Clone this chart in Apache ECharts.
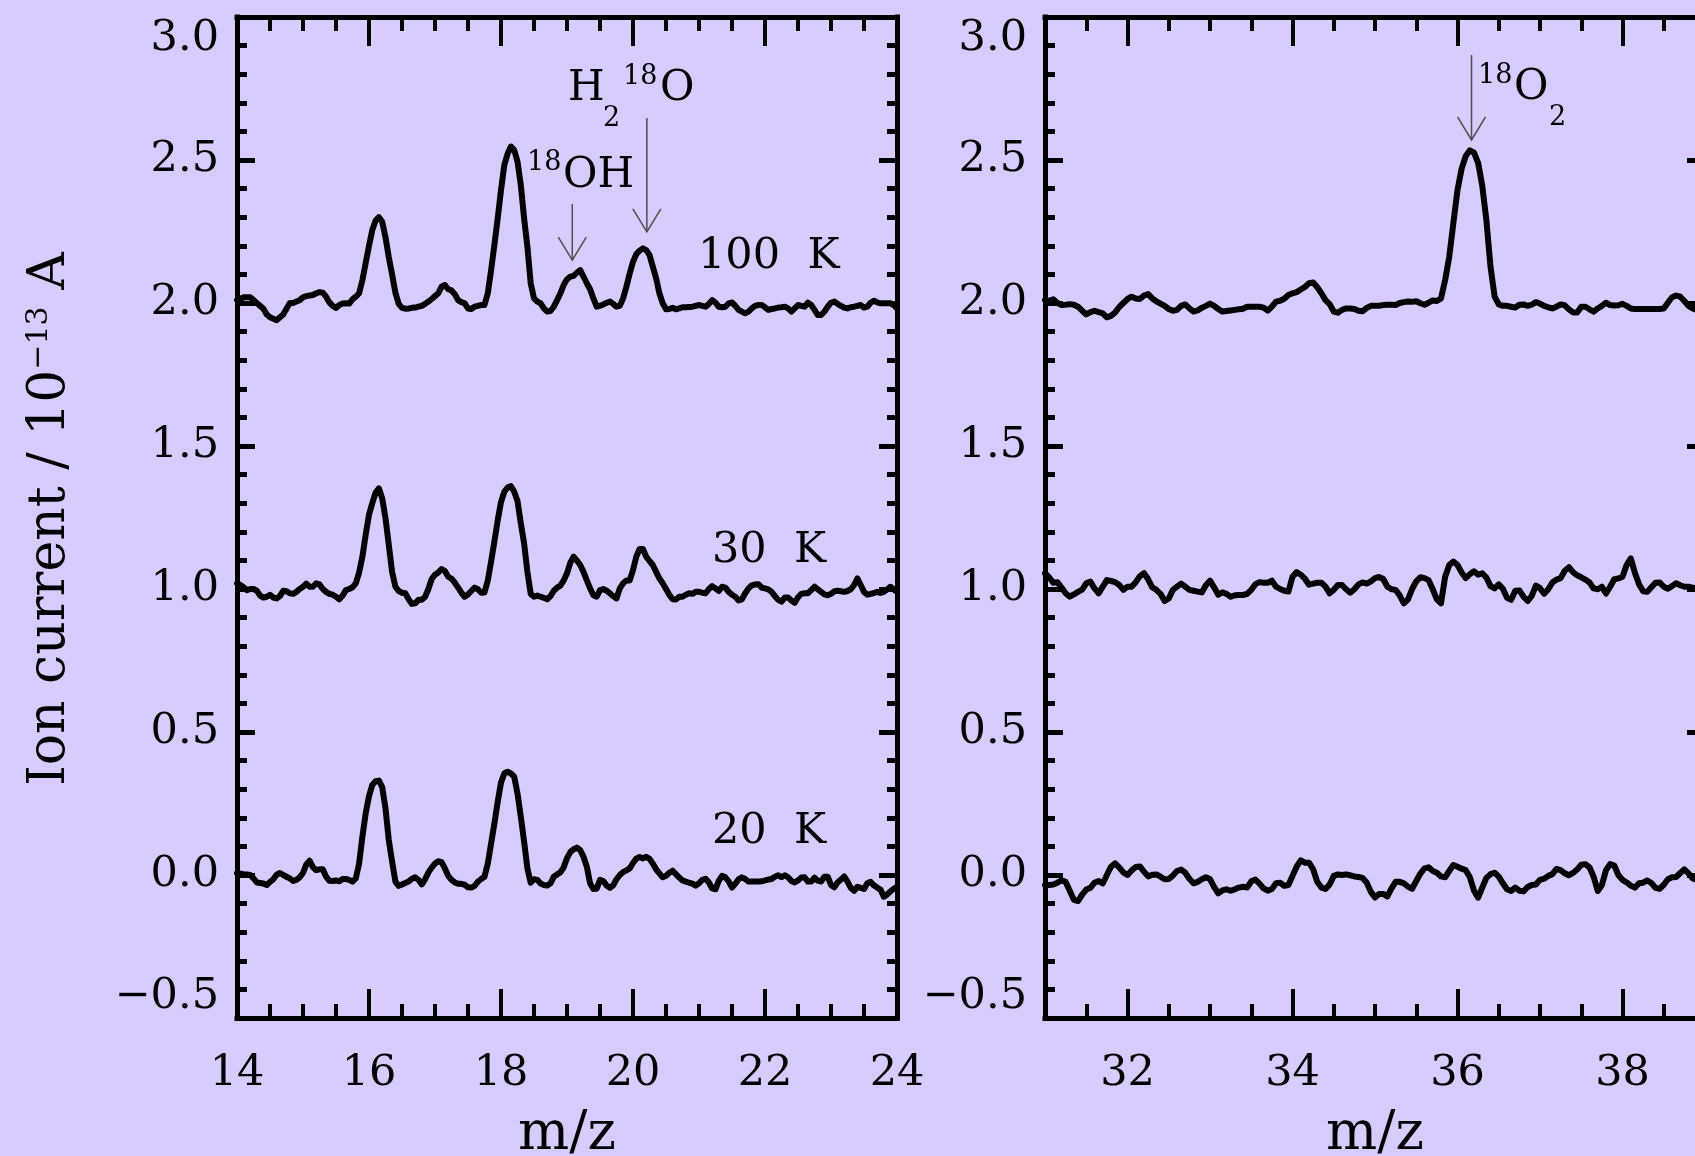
<!DOCTYPE html>
<html>
<head>
  <meta charset="utf-8">
  <title>Ion current</title>
  <script src="https://cdn.jsdelivr.net/npm/echarts@6/dist/echarts.min.js"></script>
  <style>
    html, body { margin: 0; padding: 0; background: #d8cbfd; }
    #chart { width: 1695px; height: 1156px; }
  </style>
</head>
<body>
<div id="chart"></div>
<script>
  // spectra are sampled every 0.05 in m/z
  var mzStep = 0.05
  var leftStart = 14
  var rightStart = 31

  // left panel, m/z 14 - 24
  var left100K = [
    2.01, 2.014, 2.02, 2.02, 2.02, 2.01, 2.0, 1.99, 1.98, 1.96,
    1.95, 1.945, 1.94, 1.95, 1.96, 1.98, 2.0, 2.0, 2.005, 2.01,
    2.02, 2.024, 2.026, 2.028, 2.034, 2.038, 2.036, 2.022, 2.002, 1.99,
    1.983, 1.993, 1.998, 1.999, 1.998, 2.013, 2.022, 2.034, 2.08, 2.14,
    2.2, 2.255, 2.288, 2.3, 2.284, 2.23, 2.16, 2.1, 2.036, 1.997,
    1.983, 1.98, 1.981, 1.983, 1.984, 1.987, 1.99, 1.997, 2.005, 2.014,
    2.024, 2.034, 2.057, 2.063, 2.048, 2.044, 2.031, 2.01, 2.003, 1.999,
    1.981, 1.979, 1.987, 1.99, 1.993, 1.993, 2.034, 2.115, 2.203, 2.296,
    2.395, 2.482, 2.522, 2.547, 2.535, 2.494, 2.413, 2.296, 2.197, 2.069,
    2.016, 2.005, 1.999, 1.981, 1.97, 1.972, 1.987, 2.01, 2.034, 2.063,
    2.083, 2.092, 2.095, 2.106, 2.115, 2.092, 2.069, 2.048, 2.016, 1.987,
    1.99, 1.995, 2.001, 2.005, 1.997, 1.987, 1.99, 2.016, 2.057, 2.103,
    2.144, 2.171, 2.183, 2.191, 2.185, 2.168, 2.127, 2.087, 2.034, 1.999,
    1.978, 1.979, 1.983, 1.978, 1.981, 1.985, 1.985, 1.986, 1.987, 1.99,
    1.993, 1.99, 1.987, 1.997, 2.01, 2.001, 1.987, 1.985, 1.987, 1.999,
    2.002, 1.99, 1.976, 1.97, 1.964, 1.97, 1.981, 1.99, 1.993, 1.993,
    1.985, 1.976, 1.979, 1.981, 1.984, 1.985, 1.987, 1.981, 1.97, 1.981,
    1.993, 1.99, 1.987, 2.001, 1.993, 1.976, 1.958, 1.958, 1.97, 1.987,
    2.001, 2.005, 1.997, 1.99, 1.984, 1.981, 1.985, 1.987, 1.99, 1.993,
    1.984, 1.987, 2.001, 2.008, 2.002, 1.999, 1.999, 1.999, 1.999, 1.993,
    1.981
  ]
  var left30K = [
    1.02, 1.014, 1.006, 0.996, 1.0, 1.0, 0.994, 0.977, 0.97, 0.973,
    0.98, 0.97, 0.967, 0.975, 0.994, 0.992, 0.985, 0.983, 0.99, 1.0,
    1.008, 1.019, 1.008, 1.008, 1.02, 1.016, 1.0, 0.99, 0.983, 0.98,
    0.973, 0.964, 0.977, 0.996, 1.0, 1.006, 1.02, 1.057, 1.113, 1.19,
    1.26, 1.3, 1.337, 1.352, 1.317, 1.247, 1.154, 1.06, 1.008, 0.993,
    0.987, 0.985, 0.964, 0.948, 0.95, 0.962, 0.962, 0.973, 1.0, 1.035,
    1.05, 1.058, 1.07, 1.063, 1.043, 1.036, 1.022, 1.005, 0.987, 0.973,
    0.981, 0.993, 1.005, 0.999, 0.987, 0.988, 1.03, 1.096, 1.166, 1.24,
    1.304, 1.34, 1.355, 1.36, 1.34, 1.308, 1.23, 1.16, 1.06, 0.983,
    0.973, 0.977, 0.973, 0.969, 0.964, 0.975, 0.994, 1.005, 1.012, 1.03,
    1.055, 1.092, 1.113, 1.1, 1.084, 1.06, 1.03, 1.002, 0.978, 0.973,
    0.996, 1.0, 0.994, 0.985, 0.975, 0.967, 1.002, 1.02, 1.03, 1.03,
    1.066, 1.113, 1.14, 1.14, 1.113, 1.098, 1.084, 1.06, 1.037, 1.02,
    1.0, 0.98, 0.964, 0.963, 0.973, 0.973, 0.98, 0.985, 0.983, 0.99,
    0.99, 0.987, 0.985, 1.0, 1.01, 1.002, 0.993, 1.008, 1.005, 0.99,
    0.98, 0.973, 0.96, 0.964, 0.985, 1.002, 1.013, 1.016, 1.017, 1.005,
    1.002, 0.999, 0.99, 0.975, 0.962, 0.956, 0.97, 0.97, 0.96, 0.952,
    0.971, 0.983, 0.985, 0.985, 0.996, 1.008, 0.999, 0.99, 0.981, 0.978,
    0.983, 0.992, 0.994, 0.992, 0.99, 0.993, 0.999, 1.014, 1.037, 1.014,
    0.99, 0.98, 0.983, 0.986, 0.99, 0.986, 0.99, 0.999, 1.008, 0.999,
    0.99
  ]
  var left20K = [
    0.006, 0.005, 0.003, 0.002, 0.0, -0.012, -0.026, -0.028, -0.03, -0.035,
    -0.024, -0.015, 0.001, 0.007, 0.0, -0.006, -0.012, -0.021, -0.017, -0.008,
    0.007, 0.037, 0.05, 0.027, 0.017, 0.02, 0.02, -0.006, -0.02, -0.021,
    -0.019, -0.022, -0.014, -0.014, -0.017, -0.023, -0.012, 0.04, 0.134, 0.216,
    0.276, 0.315, 0.328, 0.33, 0.307, 0.233, 0.122, 0.047, -0.023, -0.038,
    -0.033, -0.028, -0.023, -0.013, -0.008, -0.017, -0.033, -0.015, 0.009, 0.026,
    0.04, 0.048, 0.045, 0.023, -0.003, -0.017, -0.026, -0.031, -0.031, -0.034,
    -0.043, -0.044, -0.038, -0.023, -0.014, -0.006, 0.04, 0.11, 0.18, 0.256,
    0.323, 0.355, 0.361, 0.355, 0.344, 0.285, 0.204, 0.117, 0.023, -0.027,
    -0.015, -0.017, -0.03, -0.035, -0.037, -0.029, -0.006, 0.002, 0.009, 0.027,
    0.059, 0.08, 0.09, 0.096, 0.087, 0.064, 0.029, -0.029, -0.049, -0.048,
    -0.017, -0.021, -0.037, -0.045, -0.036, -0.015, 0.0, 0.01, 0.016, 0.023,
    0.042, 0.057, 0.063, 0.058, 0.064, 0.057, 0.04, 0.02, 0.006, -0.008,
    -0.003, 0.008, 0.015, 0.003, -0.009, -0.019, -0.023, -0.027, -0.03, -0.037,
    -0.029, -0.017, -0.013, -0.026, -0.047, -0.05, -0.02, -0.003, -0.008, -0.022,
    -0.044, -0.031, -0.015, -0.008, -0.014, -0.023, -0.023, -0.023, -0.023, -0.022,
    -0.019, -0.016, -0.014, -0.006, -0.001, -0.008, -0.001, -0.008, -0.021, -0.026,
    -0.019, -0.009, -0.008, -0.023, -0.023, -0.009, -0.02, -0.023, -0.006, -0.006,
    -0.035, -0.043, -0.026, -0.016, -0.005, -0.023, -0.045, -0.055, -0.041, -0.045,
    -0.049, -0.029, -0.024, -0.036, -0.044, -0.051, -0.076, -0.068, -0.058, -0.048,
    -0.041
  ]

  // right panel, m/z 31 - 39
  var right100K = [
    2.01, 2.008, 2.013, 2.0, 1.993, 1.994, 1.996, 1.994, 1.987, 1.973,
    1.96, 1.968, 1.973, 1.968, 1.964, 1.95, 1.955, 1.967, 1.986, 2.0,
    2.014, 2.022, 2.016, 2.014, 2.026, 2.031, 2.016, 2.006, 1.998, 1.99,
    1.979, 1.973, 1.976, 1.99, 1.995, 1.981, 1.97, 1.974, 1.983, 1.99,
    1.998, 1.99, 1.979, 1.97, 1.972, 1.974, 1.976, 1.978, 1.98, 1.987,
    1.987, 1.987, 1.987, 1.984, 1.973, 1.987, 2.005, 2.008, 2.015, 2.028,
    2.034, 2.038, 2.047, 2.056, 2.069, 2.072, 2.055, 2.034, 2.01, 1.996,
    1.97, 1.966, 1.976, 1.981, 1.981, 1.979, 1.973, 1.971, 1.983, 1.99,
    1.99, 1.99, 1.993, 1.994, 1.994, 1.993, 2.0, 2.003, 2.005, 2.004,
    2.006, 1.999, 1.994, 2.001, 2.009, 2.007, 2.016, 2.08, 2.162, 2.28,
    2.395, 2.47, 2.514, 2.534, 2.526, 2.49, 2.41, 2.29, 2.127, 2.022,
    1.995, 1.99, 1.99, 1.987, 1.984, 1.994, 1.995, 1.99, 1.994, 2.003,
    1.998, 1.99, 1.985, 1.981, 1.987, 1.995, 1.992, 1.978, 1.967, 1.967,
    1.987, 1.987, 1.978, 1.97, 1.981, 1.99, 2.001, 1.993, 1.991, 1.992,
    1.997, 1.99, 1.981, 1.979, 1.979, 1.979, 1.979, 1.979, 1.979, 1.979,
    1.981, 2.001, 2.02, 2.026, 2.022, 2.007, 1.99, 1.981, 1.976, 1.98,
    1.99
  ]
  var right30K = [
    1.055, 1.041, 1.022, 1.024, 1.005, 0.985, 0.973, 0.981, 0.99, 0.998,
    1.02, 1.026, 1.002, 0.985, 1.008, 1.031, 1.028, 1.024, 1.014, 0.997,
    1.008, 1.008, 1.024, 1.045, 1.055, 1.034, 1.006, 0.997, 0.983, 0.958,
    0.967, 0.997, 1.008, 1.019, 1.008, 0.997, 0.994, 0.991, 0.988, 1.013,
    1.029, 1.006, 0.98, 0.988, 0.983, 0.973, 0.978, 0.979, 0.979, 0.983,
    0.997, 1.017, 1.024, 1.022, 1.022, 1.029, 1.008, 1.0, 0.994, 0.991,
    1.043, 1.059, 1.05, 1.036, 1.015, 1.019, 1.022, 1.022, 1.008, 0.985,
    0.997, 1.014, 1.014, 0.999, 0.987, 0.999, 1.016, 1.023, 1.019, 1.027,
    1.038, 1.042, 1.035, 1.008, 0.999, 0.997, 0.977, 0.95, 0.964, 1.0,
    1.027, 1.041, 1.038, 1.031, 0.999, 0.964, 0.95, 1.043, 1.084, 1.096,
    1.084, 1.058, 1.038, 1.052, 1.062, 1.05, 1.055, 1.04, 1.01, 1.002,
    1.016, 1.001, 0.969, 0.962, 0.994, 0.995, 0.973, 0.958, 0.976, 1.012,
    1.003, 0.983, 0.999, 1.023, 1.033, 1.038, 1.064, 1.076, 1.059, 1.048,
    1.041, 1.033, 1.023, 1.002, 0.999, 1.008, 0.984, 1.008, 1.034, 1.037,
    1.043, 1.084, 1.107, 1.057, 1.017, 0.992, 0.99, 1.006, 1.022, 1.023,
    1.008, 1.001, 1.01, 1.02, 1.013, 1.008, 1.008, 1.005, 1.002, 1.008,
    1.006
  ]
  var right20K = [
    -0.035, -0.035, -0.033, -0.027, -0.019, -0.024, -0.055, -0.087, -0.091, -0.069,
    -0.051, -0.045, -0.027, -0.021, -0.029, 0.0, 0.029, 0.041, 0.026, 0.009,
    0.0, 0.016, 0.028, 0.03, 0.012, -0.005, 0.001, 0.002, -0.006, -0.015,
    -0.014, -0.002, 0.014, 0.019, 0.008, -0.013, -0.029, -0.024, -0.015, -0.008,
    -0.014, -0.042, -0.064, -0.054, -0.05, -0.055, -0.05, -0.044, -0.041, -0.044,
    -0.022, -0.016, -0.03, -0.047, -0.055, -0.049, -0.029, -0.027, -0.038, -0.035,
    -0.003, 0.029, 0.051, 0.043, 0.043, 0.02, -0.024, -0.044, -0.049, -0.033,
    -0.003, 0.002, 0.0, 0.002, -0.001, -0.005, -0.007, -0.01, -0.027, -0.059,
    -0.079, -0.066, -0.066, -0.075, -0.047, -0.024, -0.024, -0.029, -0.041, -0.048,
    -0.021, 0.005, 0.023, 0.027, 0.014, 0.008, -0.005, -0.008, 0.014, 0.035,
    0.029, 0.022, 0.017, -0.008, -0.055, -0.079, -0.044, -0.01, 0.003, 0.008,
    -0.006, -0.029, -0.05, -0.056, -0.044, -0.055, -0.057, -0.042, -0.035, -0.033,
    -0.017, -0.013, -0.003, 0.003, 0.021, 0.017, 0.006, -0.001, 0.007, 0.019,
    0.036, 0.038, 0.027, -0.006, -0.056, -0.035, 0.017, 0.038, 0.033, 0.0,
    -0.017, -0.026, -0.037, -0.044, -0.029, -0.027, -0.019, -0.028, -0.045, -0.048,
    -0.034, -0.015, -0.008, -0.007, 0.007, 0.02, 0.006, -0.012, -0.017, -0.012,
    -0.006
  ]

  var leftTicks = [14, 16, 18, 20, 22, 24]
  var rightTicks = [32, 34, 36, 38]

  // temperature labels, anchored at [m/z, current]
  var tempNames = ['100  K', '30  K', '20  K']
  var tempPos = [[20.985, 2.16], [21.197, 1.135], [21.197, 0.15]]

  // arrows: [m/z, top of shaft, tip]
  var leftArrows = [[19.08, 2.346, 2.15], [20.21, 2.647, 2.249]]
  var rightArrows = [[36.17, 2.867, 2.57]]

  // species labels, anchored at [m/z, current]
  var leftSpeciesPos = [[19.015, 2.748], [18.394, 2.445]]
  var rightSpeciesPos = [[36.248, 2.752]]
  // pieces of each label: text, dx, dy, font size
  var leftSpecies = [
    [['H', 0, 0, 42], ['2', 35, 30, 27], ['18', 55, -12, 27], ['O', 92, 0, 42]],
    [['18', 0, -13, 27], ['OH', 36, 0, 42]]
  ]
  var rightSpecies = [
    [['18', 0, -12, 27], ['O', 36, 0, 42], ['2', 71, 30, 27]]
  ]

  var font = 'DejaVu Serif'
  var ink = '#000'
  var chart = echarts.init(document.getElementById('chart'))

  function toPairs (start, values) {
    return values.map(function (v, i) {
      return [Math.round((start + i * mzStep) * 100) / 100, v]
    })
  }

  // x axis carrying the frame line and the short ticks
  function frameX (grid, min, max, position) {
    return {
      type: 'value',
      gridIndex: grid,
      position: position,
      min: min,
      max: max,
      interval: 0.5,
      axisLine: { show: true, onZero: false, lineStyle: { color: ink, width: 5, cap: 'square' } },
      axisTick: { show: true, inside: true, length: 14, lineStyle: { color: ink, width: 4 } },
      axisLabel: { show: false },
      splitLine: { show: false }
    }
  }

  // x axis carrying the long ticks and the labels
  function majorX (grid, min, max, position, ticks, withLabels) {
    var axis = {
      type: 'value',
      gridIndex: grid,
      position: position,
      min: min,
      max: max,
      axisLine: { show: false, onZero: false },
      axisTick: { show: true, inside: true, length: 29, customValues: ticks, lineStyle: { color: ink, width: 4 } },
      axisLabel: {
        show: withLabels,
        customValues: ticks,
        showMinLabel: true,
        showMaxLabel: true,
        margin: 34,
        color: ink,
        fontFamily: font,
        fontSize: 43
      },
      splitLine: { show: false }
    }
    if (withLabels) {
      axis.name = 'm/z'
      axis.nameLocation = 'middle'
      axis.nameGap = 90
      axis.nameTextStyle = { color: ink, fontFamily: font, fontSize: 54 }
    }
    return axis
  }

  function frameY (grid, position, withLabels) {
    return {
      type: 'value',
      gridIndex: grid,
      position: position,
      min: -0.5,
      max: 3,
      interval: 0.5,
      axisLine: { show: true, onZero: false, lineStyle: { color: ink, width: 5, cap: 'square' } },
      axisTick: { show: true, inside: true, length: 18, lineStyle: { color: ink, width: 5 } },
      minorTick: { show: true, splitNumber: 5, length: 10, lineStyle: { color: ink, width: 5 } },
      axisLabel: {
        show: withLabels,
        margin: 18,
        color: ink,
        fontFamily: font,
        fontSize: 43,
        showMinLabel: true,
        showMaxLabel: true,
        verticalAlignMinLabel: 'bottom',
        verticalAlignMaxLabel: 'top',
        formatter: function (v) {
          return v.toFixed(1).replace('-', '\u2212')
        }
      },
      splitLine: { show: false },
      minorSplitLine: { show: false }
    }
  }

  function trace (xIndex, yIndex, start, values) {
    return {
      type: 'line',
      xAxisIndex: xIndex,
      yAxisIndex: yIndex,
      data: toPairs(start, values),
      symbol: 'none',
      silent: true,
      lineStyle: { color: ink, width: 6, join: 'round', cap: 'round' }
    }
  }

  function arrows (xIndex, yIndex, data) {
    return {
      type: 'custom',
      xAxisIndex: xIndex,
      yAxisIndex: yIndex,
      data: data,
      silent: true,
      renderItem: function (params, api) {
        var top = api.coord([api.value(0), api.value(1)])
        var tip = api.coord([api.value(0), api.value(2)])
        return {
          type: 'group',
          children: [{
            type: 'line',
            shape: { x1: top[0], y1: top[1], x2: tip[0], y2: tip[1] },
            style: { stroke: '#4d4d4d', lineWidth: 1.5 }
          }, {
            type: 'polyline',
            shape: { points: [[tip[0] - 14, tip[1] - 23], [tip[0], tip[1]], [tip[0] + 14, tip[1] - 23]] },
            style: { stroke: '#4d4d4d', lineWidth: 1.5, fill: null }
          }]
        }
      }
    }
  }

  function labels (xIndex, yIndex, positions, pieces) {
    return {
      type: 'custom',
      xAxisIndex: xIndex,
      yAxisIndex: yIndex,
      data: positions,
      silent: true,
      renderItem: function (params, api) {
        var p = api.coord([api.value(0), api.value(1)])
        return {
          type: 'group',
          children: pieces[params.dataIndex].map(function (piece) {
            return {
              type: 'text',
              x: p[0] + piece[1],
              y: p[1] + piece[2],
              style: {
                text: piece[0],
                fill: ink,
                fontFamily: font,
                fontSize: piece[3],
                align: 'left',
                verticalAlign: 'middle'
              }
            }
          })
        }
      }
    }
  }

  var tempPieces = tempNames.map(function (name) {
    return [[name, 0, 0, 43]]
  })

  chart.setOption({
    animation: false,
    backgroundColor: '#d8cbfd',
    grid: [
      { left: 237, top: 17, width: 660, height: 1001, outerBoundsMode: 'none' },
      { left: 1045, top: 17, width: 660, height: 1001, outerBoundsMode: 'none' }
    ],
    xAxis: [
      frameX(0, 14, 24, 'bottom'),
      majorX(0, 14, 24, 'bottom', leftTicks, true),
      frameX(0, 14, 24, 'top'),
      majorX(0, 14, 24, 'top', leftTicks, false),
      frameX(1, 31, 39, 'bottom'),
      majorX(1, 31, 39, 'bottom', rightTicks, true),
      frameX(1, 31, 39, 'top'),
      majorX(1, 31, 39, 'top', rightTicks, false)
    ],
    yAxis: [
      frameY(0, 'left', true),
      frameY(0, 'right', false),
      frameY(1, 'left', true),
      frameY(1, 'right', false)
    ],
    graphic: [{
      type: 'text',
      x: 50,
      y: 519,
      rotation: Math.PI / 2,
      style: {
        text: 'Ion current / 10{sup|\u221213} A',
        fill: ink,
        fontFamily: font,
        fontSize: 52,
        align: 'center',
        verticalAlign: 'middle',
        rich: {
          sup: { fontFamily: font, fontSize: 30, lineHeight: 30, verticalAlign: 'top' }
        }
      }
    }],
    series: [
      trace(0, 0, leftStart, left100K),
      trace(0, 0, leftStart, left30K),
      trace(0, 0, leftStart, left20K),
      trace(4, 2, rightStart, right100K),
      trace(4, 2, rightStart, right30K),
      trace(4, 2, rightStart, right20K),
      arrows(0, 0, leftArrows),
      arrows(4, 2, rightArrows),
      labels(0, 0, tempPos, tempPieces),
      labels(0, 0, leftSpeciesPos, leftSpecies),
      labels(4, 2, rightSpeciesPos, rightSpecies)
    ]
  })
</script>
</body>
</html>
